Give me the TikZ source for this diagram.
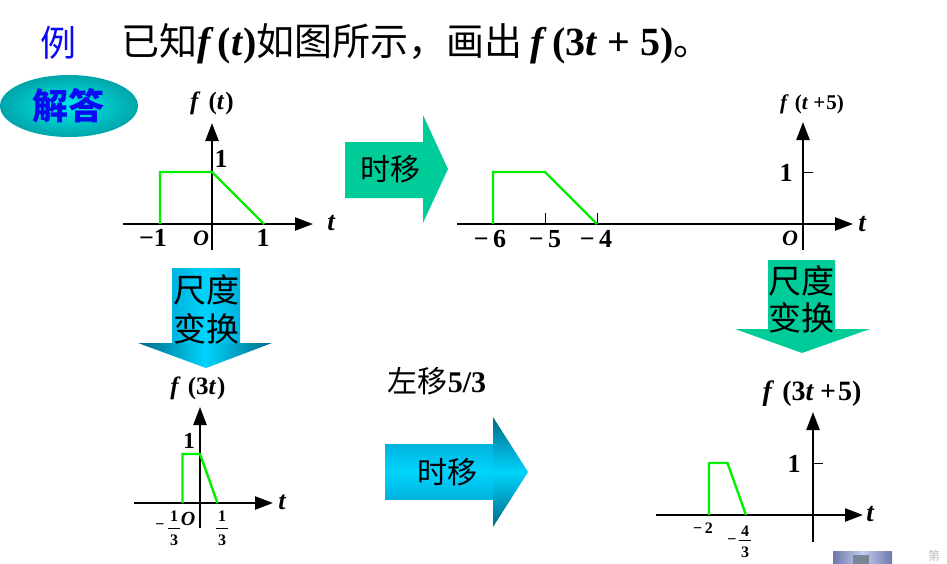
\documentclass[tikz,border=0pt]{standalone}
\usepackage{fontspec}
\setmainfont{Liberation Serif}
\newfontfamily\cjk{Noto Sans CJK SC}
\usetikzlibrary{arrows.meta}
\definecolor{tealgreen}{RGB}{0,204,153}
\definecolor{sigreen}{RGB}{0,240,0}
\definecolor{cyanmid}{RGB}{0,212,252}
\definecolor{cyanedge}{RGB}{0,178,222}
\definecolor{cyandark}{RGB}{0,105,135}
\definecolor{titleblue}{RGB}{10,10,245}
\definecolor{ellin}{RGB}{0,235,235}
\definecolor{ellout}{RGB}{0,165,170}
\definecolor{btnedge}{RGB}{110,120,170}
\definecolor{btnmid}{RGB}{195,205,238}
\definecolor{btnin}{RGB}{120,135,150}
\newcommand\myfs[1]{\fontsize{#1}{#1}\selectfont}
\newcommand\latinpart[1]{{\fontsize{40}{40}\selectfont\rmfamily\bfseries #1}}
\begin{document}
\begin{tikzpicture}[x=1pt,y=-1pt,
  axis/.style={line width=2.4pt,-{Triangle[length=18pt,width=13pt]}},
  sig/.style={draw=sigreen,line width=2.4pt,line join=miter},
  tickmark/.style={line width=1pt},
  lab/.style={inner sep=0pt,font=\myfs{26}\bfseries},
  olab/.style={inner sep=0pt,font=\myfs{22}\bfseries\itshape},
  tlab/.style={inner sep=0pt,font=\myfs{27}\bfseries\itshape},
  flab/.style={inner sep=0pt,font=\myfs{#1}\bfseries},
  small/.style={inner sep=0pt,font=\myfs{16}\bfseries},
  cjklab/.style={inner sep=0pt,font=\myfs{#1}\cjk},
  fbar/.style={line width=0.8pt}
]
\useasboundingbox (0,0) rectangle (947,563);

% ---------- title ----------
\node[cjklab=36,text=titleblue] (li) at (58,43) {例};
\node[inner sep=0pt,anchor=west,font=\myfs{38}\cjk] (title) at (121,44)
  {已知\latinpart{\textit{f}\hspace{4pt}(\textit{t})}如图所示，画出\hspace{8pt}\latinpart{\textit{f}\hspace{5pt}(3\textit{t}\hspace{10pt}+\hspace{10pt}5)}。};

% ---------- answer ellipse ----------
\path[inner color=ellin, outer color=ellout]
  (69,106) ellipse [x radius=69, y radius=31];
\node[cjklab=36,text=titleblue,font=\myfs{36}\cjk\bfseries] (jieda) at (68,106) {解答};

% ---------- graph 1: f(t) ----------
\coordinate (g1xs) at (123,224); \coordinate (g1xe) at (313,224);
\coordinate (g1ys) at (212,250); \coordinate (g1ye) at (212,123);
\draw[axis] (g1xs) -- (g1xe);
\draw[axis] (g1ys) -- (g1ye);
\draw[sig] (160,224) -- (160,172) -- (212,172) -- (264,224);
\node[flab=25] (g1f) at (212,103) {\textit{f}\hspace{8pt}(\textit{t}\hspace{1pt})};
\node[lab] (g1one) at (221,159) {1};
\node[lab] (g1m1) at (153,238) {−1};
\node[olab] (g1o) at (201,238) {O};
\node[lab] (g1p1) at (263,238) {1};
\node[tlab] (g1t) at (331,223) {t};

% ---------- arrow: 时移 (top) ----------
\fill[tealgreen] (345,142) -- (423,142) -- (423,115) -- (448,169) -- (423,223) -- (423,198) -- (345,198) -- cycle;
\node[cjklab=30] (shiyi1) at (390,169) {时移};

% ---------- graph 2: f(t+5) ----------
\coordinate (g2xs) at (457,224); \coordinate (g2xe) at (853,224);
\coordinate (g2ys) at (803,250); \coordinate (g2ye) at (803,122);
\draw[axis] (g2xs) -- (g2xe);
\draw[axis] (g2ys) -- (g2ye);
\draw[tickmark] (545,224) -- (545,213);
\draw[tickmark] (597,224) -- (597,213);
\draw[tickmark] (803,172) -- (813,172);
\draw[sig] (493,224) -- (493,172) -- (545,172) -- (597,224);
\node[flab=21] (g2f) at (812,104) {\textit{f}\hspace{6pt}(\textit{t}\hspace{5pt}+\hspace{1pt}5)};
\node[lab] (g2m6) at (490,239) {−\,6};
\node[lab] (g2m5) at (545,239) {−\,5};
\node[lab] (g2m4) at (596,239) {−\,4};
\node[lab] (g2one) at (786,173) {1};
\node[olab] (g2o) at (790,238) {O};
\node[tlab] (g2t) at (862,224) {t};

% ---------- arrow: 尺度变换 (left, cyan) ----------
\shade[left color=cyanedge, right color=cyanedge, middle color=cyanmid]
  (172,268) rectangle (240,344);
\shade[left color=cyandark, right color=cyandark, middle color=cyanmid]
  (138,343) -- (272,343) -- (206,368) -- cycle;
\node[cjklab=33] (cd1) at (206,290) {尺度};
\node[cjklab=33] (bh1) at (206,329) {变换};

% ---------- graph 3: f(3t) ----------
\coordinate (g3xs) at (134,503); \coordinate (g3xe) at (273,503);
\coordinate (g3ys) at (200,528); \coordinate (g3ye) at (200,407);
\draw[axis] (g3xs) -- (g3xe);
\draw[axis] (g3ys) -- (g3ye);
\draw[sig] (182.5,503) -- (182.5,454) -- (200,454) -- (217.5,503);
\node[flab=25] (g3f) at (198,388) {\textit{f}\hspace{7pt}(3\textit{t}\hspace{1pt})};
\node[lab,font=\myfs{23}\bfseries] (g3one) at (189,441) {1};
\node[tlab,font=\myfs{26}\bfseries\itshape] (g3t) at (282,502) {t};
\node[olab,font=\myfs{20}\bfseries\itshape] (g3o) at (188,519) {O};
\node[small] (g3minus) at (160,527) {−};
\node[small] (g3n1) at (174,516) {1};
\draw[fbar] (168,528) -- (180,528);
\node[small] (g3d1) at (174,540) {3};
\node[small] (g3n2) at (222,516) {1};
\draw[fbar] (216,528) -- (228,528);
\node[small] (g3d2) at (222,540) {3};

% ---------- 左移5/3 and arrow 时移 (bottom, cyan) ----------
\node[inner sep=0pt,font=\myfs{30}] (zuoyi) at (437,381) {{\cjk 左移}\textbf{5/3}};
\shade[top color=cyanedge, bottom color=cyanedge, middle color=cyanmid]
  (385,444) rectangle (494,499);
\shade[top color=cyandark, bottom color=cyandark, middle color=cyanmid]
  (493,417) -- (528,472) -- (493,527) -- cycle;
\node[cjklab=30] (shiyi2) at (447,472) {时移};

% ---------- arrow: 尺度变换 (right, green) ----------
\fill[tealgreen] (768,260) -- (835,260) -- (835,329) -- (870,329) -- (802,353) -- (735,329) -- (768,329) -- cycle;
\node[cjklab=33] (cd2) at (801,281) {尺度};
\node[cjklab=33] (bh2) at (801,318) {变换};

% ---------- graph 4: f(3t+5) ----------
\coordinate (g4xs) at (656,515); \coordinate (g4xe) at (863,515);
\coordinate (g4ys) at (813,542); \coordinate (g4ye) at (813,412);
\draw[axis] (g4xs) -- (g4xe);
\draw[axis] (g4ys) -- (g4ye);
\draw[tickmark] (813,463) -- (823,463);
\draw[sig] (709,515) -- (709,463) -- (727.5,463) -- (746,515);
\node[flab=28] (g4f) at (812,394) {\textit{f}\hspace{8pt}(3\textit{t}\hspace{6pt}+\hspace{2pt}5)};
\node[lab] (g4one) at (794,464) {1};
\node[tlab] (g4t) at (870,514) {t};
\node[small] (g4m2) at (703,528) {−\,2};
\node[small] (g4minus) at (732,542) {−};
\node[small] (g4n) at (745,531) {4};
\draw[fbar] (739,540) -- (751,540);
\node[small] (g4d) at (745,552) {3};

% ---------- slide button remnant ----------
\shade[left color=btnedge, right color=btnedge, middle color=btnmid]
  (833,551) rectangle (892,566);
\fill[btnin] (853,555) rectangle (869,566);
\node[inner sep=0pt,text=black!25,font=\myfs{12}\cjk] (di) at (934,556) {第};
\end{tikzpicture}
\end{document}
